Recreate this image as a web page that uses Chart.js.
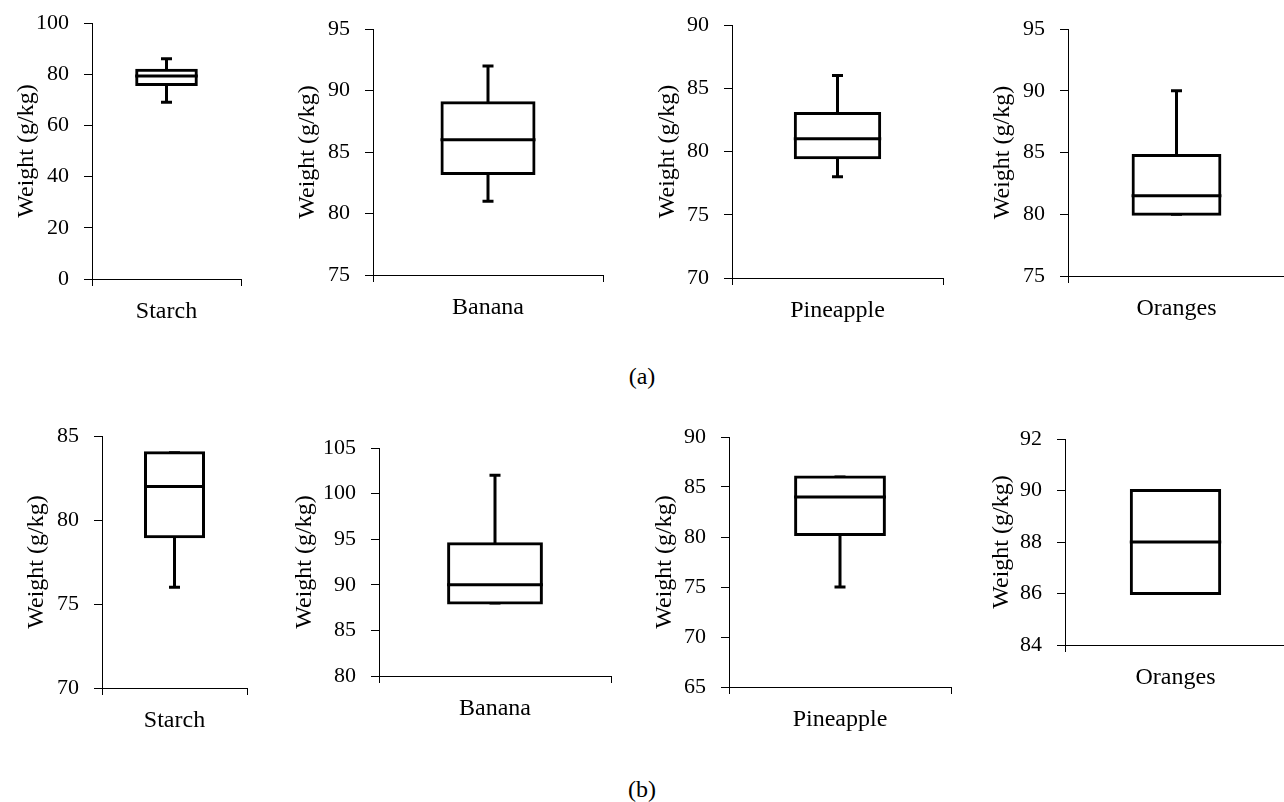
<!DOCTYPE html>
<html>
<head>
<meta charset="utf-8">
<script src="https://cdn.jsdelivr.net/npm/chart.js@4"></script>
<style>
  html, body { margin: 0; padding: 0; background: #fff; width: 1284px; height: 802px; overflow: hidden; position: relative; }
  canvas { position: absolute; }
  .panel-label { position: absolute; font-family: 'Liberation Serif', serif; font-size: 24px; color: #000; transform: translate(-50%, -50%); white-space: nowrap; }
</style>
</head>
<body>
<div class="panel-label" style="left:642px; top:376px;">(a)</div>
<div class="panel-label" style="left:642px; top:789px;">(b)</div>
<script>
// ---------- data ----------
const categories = ['Starch', 'Banana', 'Pineapple', 'Oranges'];

// Panel (a)
const minA    = [69,   81,    78,   80];
const q1A     = [76,   83.25, 79.5, 80];
const medianA = [79.3, 86,    81,   81.5];
const q3A     = [81.5, 89,    83,   84.75];
const maxA    = [86,   92,    86,   90];
const yMinA   = [0,   75, 70, 75];
const yMaxA   = [100, 95, 90, 95];
const yStepA  = [20,  5,  5,  5];

// Panel (b)
const minB    = [76, 88,   75,    86];
const q1B     = [79, 88,   80.25, 86];
const medianB = [82, 90,   84,    88];
const q3B     = [84, 94.5, 86,    90];
const maxB    = [84, 102,  86,    90];
const yMinB   = [70, 80,  65, 84];
const yMaxB   = [85, 105, 90, 92];
const yStepB  = [5,  5,   5,  2];

const yTitle = 'Weight (g/kg)';

// ---------- layout (plot-area edges in page pixels) ----------
const panelsA = [
  { L: 92,   R: 241,  T: 23,  B: 279, gap: 66 },
  { L: 373,  R: 603,  T: 29,  B: 275, gap: 66 },
  { L: 732,  R: 943,  T: 25,  B: 278, gap: 65 },
  { L: 1068, R: 1285, T: 29,  B: 276, gap: 66 }
];
const panelsB = [
  { L: 102,  R: 247,  T: 436, B: 688, gap: 66 },
  { L: 379,  R: 611,  T: 448, B: 676, gap: 75 },
  { L: 729,  R: 951,  T: 437, B: 687, gap: 65 },
  { L: 1065, R: 1286, T: 439, B: 645, gap: 64 }
];

const BOX_FRACTION = 0.4;
const LINE_W = 3;
const FONT = "'Liberation Serif', 'Times New Roman', serif";
const TICK_SIZE = 22;
const LABEL_SIZE = 24;
const PAD_TOP = 32, PAD_RIGHT = 5, X_AXIS_H = 52;

Chart.defaults.font.family = FONT;
Chart.defaults.color = '#000';

function makePanel(p, cat, mn, q1, med, q3, mx, yMin, yMax, yStep) {
  const titleHalf = LABEL_SIZE * 1.2 / 2;
  const canvasLeft = Math.round(p.L - p.gap - titleHalf);
  const yW = p.L - canvasLeft;
  const width = yW + (p.R - p.L) + PAD_RIGHT;
  const top = p.T - PAD_TOP;
  const height = PAD_TOP + (p.B - p.T) + X_AXIS_H;

  const c = document.createElement('canvas');
  c.width = width; c.height = height;
  c.style.left = canvasLeft + 'px';
  c.style.top = top + 'px';
  c.style.width = width + 'px';
  c.style.height = height + 'px';
  document.body.appendChild(c);

  const black = '#000';
  new Chart(c, {
    type: 'bar',
    data: {
      labels: [cat],
      datasets: [
        { // median line
          type: 'line', order: 0, showLine: false,
          data: [{ x: cat, y: med }],
          pointStyle: 'line', borderColor: black, pointBorderColor: black,
          pointBorderWidth: LINE_W,
          pointRadius: (ctx) => { const a = ctx.chart.chartArea; return a ? a.width * BOX_FRACTION / 2 + LINE_W / 2 : 0; }
        },
        { // box (border centred on the quartile values)
          type: 'bar', order: 1,
          data: [[q1, q3]],
          backgroundColor: '#fff', borderColor: black, borderWidth: LINE_W, borderSkipped: false,
          inflateAmount: LINE_W / 2,
          barPercentage: BOX_FRACTION, categoryPercentage: 1
        },
        { // whisker caps
          type: 'line', order: 2, showLine: false,
          data: [{ x: cat, y: mn }, { x: cat, y: mx }],
          pointStyle: 'line', borderColor: black, pointBorderColor: black,
          pointBorderWidth: LINE_W, pointRadius: 5.5
        },
        { // whiskers
          type: 'line', order: 3, spanGaps: false,
          data: [{ x: cat, y: mn }, { x: cat, y: q1 }, { x: cat, y: null }, { x: cat, y: q3 }, { x: cat, y: mx }],
          borderColor: black, borderWidth: LINE_W, pointRadius: 0, fill: false
        }
      ]
    },
    options: {
      responsive: false,
      animation: false,
      events: [],
      devicePixelRatio: 1,
      layout: { autoPadding: false, padding: { top: PAD_TOP, right: PAD_RIGHT, left: 0, bottom: 0 } },
      plugins: { legend: { display: false }, tooltip: { enabled: false } },
      scales: {
        x: {
          type: 'category',
          offset: true,
          grid: { offset: true, drawOnChartArea: false, drawTicks: true, tickLength: 7, color: black, lineWidth: 1 },
          border: { display: true, color: black, width: 1 },
          ticks: { font: { size: LABEL_SIZE }, color: black, padding: 11, maxRotation: 0 },
          afterFit: (s) => { s.height = X_AXIS_H; }
        },
        y: {
          type: 'linear',
          min: yMin, max: yMax,
          grid: { drawOnChartArea: false, drawTicks: true, tickLength: 8, color: black, lineWidth: 1 },
          border: { display: true, color: black, width: 1 },
          ticks: { stepSize: yStep, font: { size: TICK_SIZE }, color: black, padding: 15 },
          title: { display: true, text: yTitle, font: { size: LABEL_SIZE }, color: black, padding: 0 },
          afterFit: (s) => { s.width = yW; }
        }
      }
    }
  });
}

for (let i = 0; i < categories.length; i++) {
  makePanel(panelsA[i], categories[i], minA[i], q1A[i], medianA[i], q3A[i], maxA[i], yMinA[i], yMaxA[i], yStepA[i]);
  makePanel(panelsB[i], categories[i], minB[i], q1B[i], medianB[i], q3B[i], maxB[i], yMinB[i], yMaxB[i], yStepB[i]);
}
</script>
</body>
</html>
